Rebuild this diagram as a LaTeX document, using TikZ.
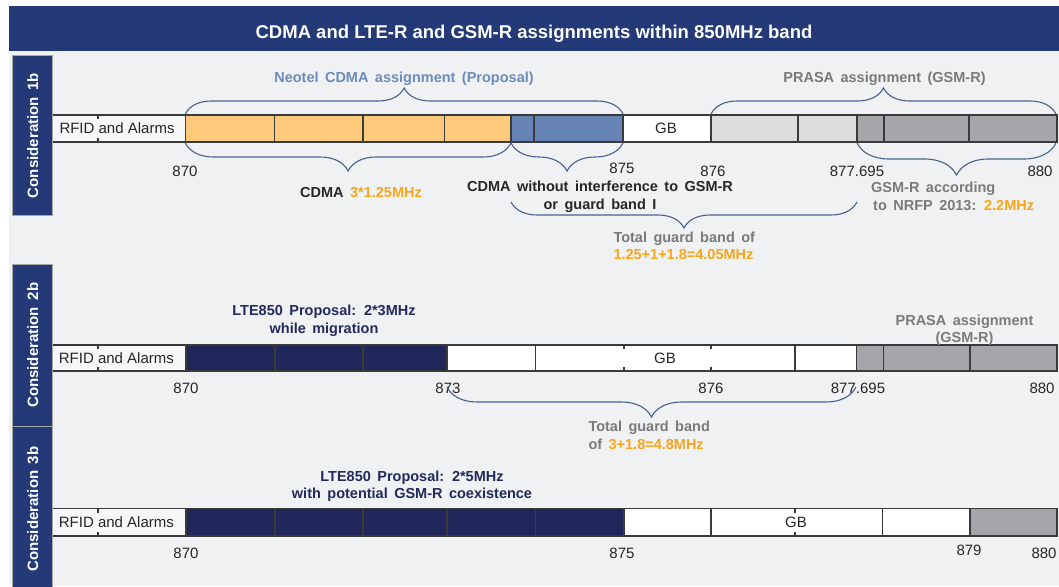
\documentclass[tikz,border=0pt]{standalone}
\usepackage{fontspec}
\setmainfont{Liberation Sans}
\newfontfamily\labelfont[WordSpace=1.6]{Liberation Sans}
\usetikzlibrary{decorations.pathreplacing}

\definecolor{titlenavy}{RGB}{35,57,120}
\definecolor{barnavy}{RGB}{31,38,89}
\definecolor{panelgray}{RGB}{240,241,243}
\definecolor{rfidwhite}{RGB}{246,247,248}
\definecolor{cdmaorange}{RGB}{253,201,123}
\definecolor{cdmablue}{RGB}{101,131,180}
\definecolor{lightgsm}{RGB}{220,221,223}
\definecolor{darkgsm}{RGB}{165,166,169}
\definecolor{hiorange}{RGB}{249,165,26}
\definecolor{steeltext}{RGB}{108,139,191}
\definecolor{graytext}{RGB}{122,122,122}
\definecolor{darktext}{RGB}{38,38,38}
\definecolor{navytext}{RGB}{34,42,92}
\definecolor{bracecol}{RGB}{69,98,143}
\definecolor{edgecol}{RGB}{58,58,58}

\tikzset{
  plain/.style={inner sep=0pt, text height=10.8pt, text depth=0pt, text=darktext,
    font=\fontsize{15}{18}\selectfont},
  note/.style={inner sep=0pt, text height=10.4pt, text depth=0pt,
    font=\labelfont\fontsize{14.5}{17.5}\selectfont\bfseries},
  titletext/.style={inner sep=0pt, text height=13.3pt, text depth=0pt, text=white,
    font=\fontsize{18.5}{22}\selectfont\bfseries},
  sidebox/.style={fill=titlenavy, draw=gray!70, line width=1pt},
  sidetext/.style={inner sep=0pt, text height=10.8pt, text depth=0pt, text=white, rotate=90,
    font=\labelfont\fontsize{15}{18}\selectfont\bfseries},
  edge/.style={draw=edgecol, line width=1.2pt},
  curly/.style={decorate, decoration={brace, amplitude=#1}, draw=bracecol, line width=1.1pt}
}

\begin{document}
\begin{tikzpicture}[x=1pt,y=-1pt]
% Page and panels
\useasboundingbox (0,0) rectangle (1059,586);
\fill[white] (0,0) rectangle (1059,586);
\fill[panelgray] (9,51) rectangle (1059,586);
\fill[titlenavy] (9,6) rectangle (1059,51);
\node[titletext] (title) at (534,32) {CDMA and LTE-R and GSM-R assignments within 850MHz band};

% Side boxes
\draw[sidebox] (12.7,56) rectangle (52.7,215);
\node[sidetext] (cons1) at (32.7,135.5) {Consideration 1b};
\draw[sidebox] (12.7,264.7) rectangle (52.7,426);
\node[sidetext] (cons2) at (32.7,345.3) {Consideration 2b};
\draw[sidebox] (12.7,426.7) rectangle (52.7,592);
\node[sidetext] (cons3) at (32.7,509) {Consideration 3b};

%%%%%%%%%%%%%%%% Consideration 1b
% Filling cells
\fill[rfidwhite] (52.7,115) rectangle (185.3,142);
\fill[cdmaorange] (185.3,115) rectangle (511,142);
\fill[cdmablue] (511,115) rectangle (623,142);
\fill[white] (623,115) rectangle (711,142);
\fill[lightgsm] (711,115) rectangle (857,142);
\fill[darkgsm] (857,115) rectangle (1057,142);
% Drawing outline and dividers
\draw[edge] (52.7,115) -- (1057,115) -- (1057,142) -- (52.7,142);
\foreach \x in {185.3,274.3,363,444.3,511,534,623,711,798,857,884,969}
  \draw[edge] (\x,115) -- (\x,142);
\draw[edge] (98,115) -- (98,119) (98,138) -- (98,142);
% Marking cells
\node[plain, anchor=west] (rfid1) at (59.3,128.5) {RFID and Alarms};
\node[plain] (gb1) at (666,128.5) {GB};
% Marking frequencies
\node[plain] (f1a) at (185,171) {870};
\node[plain] (f1b) at (622,168) {875};
\node[plain] (f1c) at (713,171) {876};
\node[plain] (f1d) at (857,171) {877.695};
\node[plain] (f1e) at (1040,171) {880};
% Braces
\coordinate (b1a) at (185.3,114);
\coordinate (b1b) at (623,114);
\coordinate (b1c) at (711,114);
\coordinate (b1d) at (1056,114);
\draw[curly=26pt] (b1a) -- (b1b);
\draw[curly=26pt] (b1c) -- (b1d);
\coordinate (c1a) at (185.3,143);
\coordinate (c1b) at (511,143);
\coordinate (c1c) at (623,143);
\coordinate (c1d) at (857,143);
\coordinate (c1e) at (1056,143);
\draw[curly=28pt] (c1b) -- (c1a);
\draw[curly=28pt] (c1c) -- (c1b);
\draw[curly=32pt] (c1e) -- (c1d);
\coordinate (g1a) at (511,202);
\coordinate (g1b) at (857,202);
\draw[curly=26pt] (g1b) -- (g1a);
% Labels
\node[note, text=steeltext] (neotel) at (404,77) {Neotel CDMA assignment (Proposal)};
\node[note, text=graytext] (prasa1) at (884.5,77) {PRASA assignment (GSM-R)};
\node[note, text=darktext] (cdma) at (361,192) {CDMA {\color{hiorange}3*1.25MHz}};
\node[note, text=darktext] (noint) at (600,186) {CDMA without interference to GSM-R};
\node[note, text=darktext] (noint2) at (600,204) {or guard band I};
\node[note, text=graytext, anchor=west] (total1) at (613.3,237.3) {Total guard band of};
\node[note, text=hiorange, anchor=west] (total1b) at (613.3,254.3) {1.25+1+1.8=4.05MHz};
\node[note, text=graytext, anchor=west] (nrfp) at (871,187.7) {GSM-R according};
\node[note, text=graytext, anchor=west] (nrfp2) at (873,205) {to NRFP 2013: {\color{hiorange}2.2MHz}};

%%%%%%%%%%%%%%%% Consideration 2b
% Filling cells
\fill[rfidwhite] (52.7,345) rectangle (186,371);
\fill[barnavy] (186,345) rectangle (447,371);
\fill[white] (447,345) rectangle (856.5,371);
\fill[darkgsm] (856.5,345) rectangle (1057,371);
% Drawing outline and dividers
\draw[edge] (52.7,345) -- (1057,345) -- (1057,371) -- (52.7,371);
\foreach \x in {186,275,363,447,535.7,795,856.5,883.5,970}
  \draw[edge] (\x,345) -- (\x,371);
\foreach \x in {98,624,711}
  \draw[edge] (\x,345) -- (\x,349) (\x,367) -- (\x,371);
% Marking cells
\node[plain, anchor=west] (rfid2) at (58.7,358) {RFID and Alarms};
\node[plain] (gb2) at (665,358) {GB};
% Marking frequencies
\node[plain] (f2a) at (186,388) {870};
\node[plain] (f2b) at (448,388) {873};
\node[plain] (f2c) at (711,388) {876};
\node[plain] (f2d) at (858,388) {877.695};
\node[plain] (f2e) at (1042,388) {880};
% Brace
\coordinate (g2a) at (447,387);
\coordinate (g2b) at (856,387);
\draw[curly=30pt] (g2b) -- (g2a);
% Labels
\node[note, text=navytext] (lte3) at (324,310) {LTE850 Proposal: 2*3MHz};
\node[note, text=navytext] (lte3b) at (324,328) {while migration};
\node[note, text=graytext] (prasa2) at (964.5,320) {PRASA assignment};
\node[note, text=graytext] (prasa2b) at (964.5,337.3) {(GSM-R)};
\node[note, text=graytext, anchor=west] (total2) at (588.3,426.7) {Total guard band};
\node[note, text=graytext, anchor=west] (total2b) at (588.3,444) {of {\color{hiorange}3+1.8=4.8MHz}};

%%%%%%%%%%%%%%%% Consideration 3b
% Filling cells
\fill[rfidwhite] (52.7,508.5) rectangle (186,536);
\fill[barnavy] (186,508.5) rectangle (624,536);
\fill[white] (624,508.5) rectangle (970,536);
\fill[darkgsm] (970,508.5) rectangle (1057,536);
% Drawing outline and dividers
\draw[edge] (52.7,508.5) -- (1057,508.5) -- (1057,536) -- (52.7,536);
\foreach \x in {186,275,363,447,535.5,624,711,882.3,970}
  \draw[edge] (\x,508.5) -- (\x,536);
\foreach \x in {98,795}
  \draw[edge] (\x,508.5) -- (\x,512.5) (\x,532) -- (\x,536);
% Marking cells
\node[plain, anchor=west] (rfid3) at (58.7,522) {RFID and Alarms};
\node[plain] (gb3) at (796,522) {GB};
% Marking frequencies
\node[plain] (f3a) at (186,553) {870};
\node[plain] (f3b) at (622,553) {875};
\node[plain] (f3c) at (969,550) {879};
\node[plain] (f3d) at (1044,553) {880};
% Labels
\node[note, text=navytext] (lte5) at (412,476.7) {LTE850 Proposal: 2*5MHz};
\node[note, text=navytext] (lte5b) at (412,493.3) {with potential GSM-R coexistence};
\end{tikzpicture}
\end{document}
